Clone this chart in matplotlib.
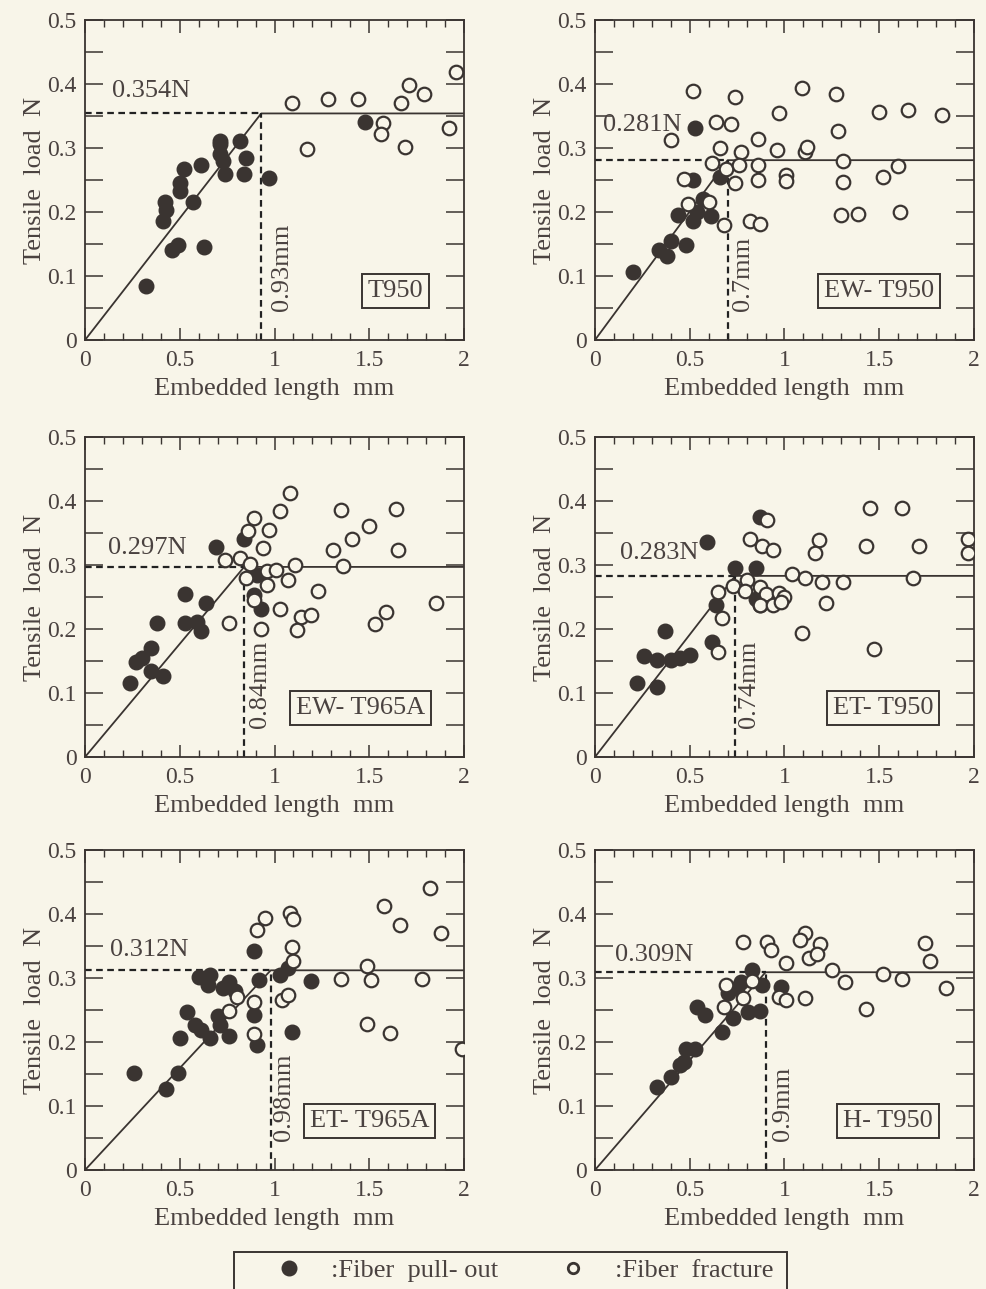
import matplotlib
matplotlib.use('Agg')
import matplotlib.pyplot as plt
from matplotlib.lines import Line2D
from matplotlib.patches import Rectangle
from matplotlib.ticker import MultipleLocator

matplotlib.rc('font', family='Liberation Serif', size=19)

BG = '#f8f5e9'
INK = '#3a3431'
TXT = '#4a4240'

# T950
t950_pull_x = [0.32, 0.46, 0.49, 0.63, 0.41, 0.43, 0.42, 0.57, 0.50, 0.50, 0.52, 0.61,
               0.71, 0.71, 0.71, 0.73, 0.74, 0.82, 0.85, 0.84, 0.97, 1.48]
t950_pull_y = [0.085, 0.140, 0.148, 0.145, 0.186, 0.203, 0.215, 0.216, 0.233, 0.245, 0.267, 0.274,
               0.290, 0.307, 0.311, 0.279, 0.260, 0.311, 0.284, 0.259, 0.253, 0.341]
t950_frac_x = [1.09, 1.28, 1.44, 1.17, 1.57, 1.56, 1.67, 1.71, 1.79, 1.69, 1.92, 1.96]
t950_frac_y = [0.371, 0.376, 0.376, 0.298, 0.339, 0.322, 0.371, 0.398, 0.384, 0.301, 0.332, 0.419]

# EW-T950
ewt950_pull_x = [0.20, 0.34, 0.40, 0.38, 0.48, 0.44, 0.52, 0.54, 0.61, 0.57, 0.52, 0.66, 0.53]
ewt950_pull_y = [0.106, 0.141, 0.154, 0.132, 0.148, 0.195, 0.186, 0.200, 0.194, 0.221, 0.250, 0.255, 0.331]
ewt950_frac_x = [0.52, 0.74, 1.09, 1.27, 0.97, 1.50, 1.65, 1.83, 0.40, 0.64, 0.72, 0.86, 1.28,
                 0.66, 0.77, 0.96, 1.11, 1.12, 0.62, 0.69, 0.76, 0.86, 1.31, 1.60, 0.47, 0.74,
                 0.86, 1.01, 1.01, 1.31, 1.52, 0.49, 0.60, 0.68, 0.82, 0.87, 1.30, 1.39, 1.61]
ewt950_frac_y = [0.389, 0.379, 0.394, 0.384, 0.355, 0.357, 0.360, 0.351, 0.313, 0.341, 0.337, 0.314, 0.327,
                 0.300, 0.294, 0.297, 0.294, 0.302, 0.277, 0.267, 0.274, 0.273, 0.280, 0.272, 0.251, 0.245,
                 0.250, 0.258, 0.249, 0.247, 0.255, 0.212, 0.216, 0.179, 0.186, 0.181, 0.195, 0.197, 0.200]

# EW-T965A
ewt965a_pull_x = [0.24, 0.27, 0.30, 0.35, 0.35, 0.41, 0.38, 0.53, 0.53, 0.59, 0.61, 0.64,
                  0.69, 0.84, 0.91, 0.89, 0.93]
ewt965a_pull_y = [0.116, 0.148, 0.155, 0.171, 0.134, 0.127, 0.210, 0.255, 0.209, 0.211, 0.197, 0.241,
                  0.328, 0.340, 0.284, 0.253, 0.232]
ewt965a_frac_x = [1.08, 1.03, 0.89, 0.86, 0.97, 0.94, 0.74, 0.82, 0.87, 0.85, 0.96, 1.01, 1.11,
                  1.07, 0.96, 1.23, 1.03, 0.89, 0.93, 0.76, 1.14, 1.19, 1.12, 1.35, 1.31, 1.41,
                  1.50, 1.36, 1.64, 1.65, 1.53, 1.59, 1.85]
ewt965a_frac_y = [0.413, 0.384, 0.373, 0.353, 0.355, 0.326, 0.308, 0.311, 0.302, 0.280, 0.290, 0.292, 0.300,
                  0.276, 0.269, 0.259, 0.232, 0.245, 0.200, 0.209, 0.219, 0.222, 0.199, 0.386, 0.324, 0.341,
                  0.361, 0.298, 0.388, 0.323, 0.208, 0.226, 0.240]

# ET-T950
ett950_pull_x = [0.22, 0.33, 0.26, 0.33, 0.40, 0.45, 0.50, 0.37, 0.59, 0.62, 0.64, 0.74,
                 0.85, 0.87, 0.85, 0.87]
ett950_pull_y = [0.115, 0.109, 0.158, 0.151, 0.151, 0.154, 0.160, 0.197, 0.336, 0.179, 0.238, 0.295,
                 0.295, 0.375, 0.247, 0.238]
ett950_frac_x = [0.91, 0.82, 0.88, 0.94, 0.65, 0.67, 0.65, 0.73, 0.80, 0.79, 0.87, 0.90, 0.87,
                 0.94, 0.97, 1.00, 0.98, 1.04, 1.11, 1.20, 1.31, 1.22, 1.18, 1.16, 1.09, 1.45,
                 1.62, 1.43, 1.71, 1.68, 1.47, 1.97, 1.97]
ett950_frac_y = [0.370, 0.341, 0.329, 0.324, 0.164, 0.217, 0.258, 0.267, 0.277, 0.260, 0.266, 0.254, 0.237,
                 0.237, 0.257, 0.250, 0.242, 0.286, 0.279, 0.273, 0.273, 0.241, 0.339, 0.318, 0.194, 0.389,
                 0.389, 0.329, 0.329, 0.279, 0.168, 0.341, 0.319]

# ET-T965A
ett965a_pull_x = [0.26, 0.43, 0.49, 0.50, 0.54, 0.58, 0.61, 0.66, 0.71, 0.70, 0.60, 0.66, 0.65,
                  0.73, 0.76, 0.79, 0.76, 0.89, 0.92, 0.89, 0.91, 1.03, 1.07, 1.09, 1.19]
ett965a_pull_y = [0.151, 0.127, 0.152, 0.206, 0.247, 0.227, 0.219, 0.206, 0.227, 0.240, 0.301, 0.305, 0.289,
                  0.284, 0.294, 0.279, 0.209, 0.342, 0.297, 0.242, 0.195, 0.305, 0.315, 0.215, 0.295]
ett965a_frac_x = [0.95, 0.91, 1.08, 1.10, 1.09, 1.10, 1.04, 1.07, 0.80, 0.76, 0.89, 0.89, 1.35,
                  1.49, 1.51, 1.78, 1.49, 1.61, 1.58, 1.66, 1.82, 1.88, 1.99]
ett965a_frac_y = [0.394, 0.375, 0.401, 0.392, 0.349, 0.327, 0.266, 0.273, 0.271, 0.248, 0.263, 0.212, 0.298,
                  0.318, 0.297, 0.298, 0.228, 0.214, 0.413, 0.383, 0.440, 0.370, 0.189]

# H-T950
ht950_pull_x = [0.33, 0.40, 0.45, 0.47, 0.48, 0.53, 0.67, 0.54, 0.58, 0.73, 0.81, 0.87,
                0.70, 0.75, 0.77, 0.83, 0.88, 0.98]
ht950_pull_y = [0.129, 0.145, 0.164, 0.169, 0.189, 0.189, 0.216, 0.254, 0.242, 0.237, 0.247, 0.248,
                0.276, 0.284, 0.294, 0.312, 0.289, 0.286]
ht950_frac_x = [0.78, 0.91, 0.93, 1.01, 1.11, 1.08, 1.19, 1.13, 1.17, 1.25, 1.32, 1.52, 1.62,
                1.74, 1.77, 1.85, 1.43, 1.11, 0.97, 1.01, 0.69, 0.83, 0.78, 0.68]
ht950_frac_y = [0.357, 0.357, 0.344, 0.323, 0.371, 0.359, 0.353, 0.331, 0.337, 0.312, 0.294, 0.306, 0.298,
                0.355, 0.326, 0.285, 0.252, 0.268, 0.271, 0.265, 0.289, 0.295, 0.268, 0.254]

names = ['T950', 'EW- T950', 'EW- T965A', 'ET- T950', 'ET- T965A', 'H- T950']
crit_len = [0.93, 0.7, 0.84, 0.74, 0.98, 0.9]
crit_load = [0.354, 0.281, 0.297, 0.283, 0.312, 0.309]

pulls = [(t950_pull_x, t950_pull_y), (ewt950_pull_x, ewt950_pull_y), (ewt965a_pull_x, ewt965a_pull_y),
         (ett950_pull_x, ett950_pull_y), (ett965a_pull_x, ett965a_pull_y), (ht950_pull_x, ht950_pull_y)]
fracs = [(t950_frac_x, t950_frac_y), (ewt950_frac_x, ewt950_frac_y), (ewt965a_frac_x, ewt965a_frac_y),
         (ett950_frac_x, ett950_frac_y), (ett965a_frac_x, ett965a_frac_y), (ht950_frac_x, ht950_frac_y)]

# label placement (data coords)
load_txt_x = [0.14, 0.045, 0.12, 0.13, 0.13, 0.105]
load_txt_y = [0.389, 0.336, 0.326, 0.318, 0.344, 0.336]
len_txt_dx = [0.11, 0.08, 0.085, 0.075, 0.07, 0.09]
name_x = [1.64, 1.5, 1.455, 1.52, 1.5, 1.547]

fig = plt.figure(figsize=(9.86, 12.89), dpi=100, facecolor=BG)
lefts = [0.0862, 0.6034]
bottoms = [0.7362, 0.4127, 0.0923]

for i in range(6):
    ax = fig.add_axes([lefts[i % 2], bottoms[i // 2], 0.3844, 0.2483])
    ax.set_facecolor(BG)
    lc, pc = crit_len[i], crit_load[i]

    ax.plot([0, lc, 2], [0, pc, pc], '-', color=INK, lw=1.3, zorder=2)
    ax.plot([0, lc], [pc, pc], '--', color='#222222', lw=1.6, dashes=(3, 2), zorder=2)
    ax.plot([lc, lc], [0, pc], '--', color='#222222', lw=1.6, dashes=(3, 2), zorder=2)

    ax.scatter(pulls[i][0], pulls[i][1], s=110, color=INK, edgecolors=INK, zorder=3, clip_on=False)
    ax.scatter(fracs[i][0], fracs[i][1], s=95, facecolors=BG, edgecolors=INK, linewidths=1.6,
               zorder=4, clip_on=True)

    ax.text(load_txt_x[i], load_txt_y[i], '%.3fN' % pc, ha='left', va='center', color=TXT, fontsize=19)
    ax.text(lc + len_txt_dx[i], 0.045, '%gmm' % lc, rotation=90, ha='center', va='bottom',
            color=TXT, fontsize=19)
    ax.text(name_x[i], 0.077, names[i], ha='center', va='center', color=TXT, fontsize=19,
            bbox=dict(boxstyle='square,pad=0.22', fc=BG, ec=INK, lw=1.4))

    ax.set_xlim(0, 2)
    ax.set_ylim(0, 0.5)
    ax.set_xticks([0, 0.5, 1, 1.5, 2])
    ax.set_xticklabels(['0', '0.5', '1', '1.5', '2'])
    ax.xaxis.set_minor_locator(MultipleLocator(0.1))
    ax.set_yticks([0, 0.1, 0.2, 0.3, 0.4, 0.5])
    ax.set_yticklabels(['0', '0.1', '0.2', '0.3', '0.4', '0.5'])
    ax.yaxis.set_minor_locator(MultipleLocator(0.05))
    ax.tick_params(which='both', direction='in', top=True, right=True, colors=INK,
                   labelcolor=TXT, labelsize=17)
    ax.tick_params(axis='x', which='major', length=9, width=1.1, pad=7)
    ax.tick_params(axis='x', which='minor', length=5, width=1.0)
    ax.tick_params(axis='y', which='both', length=13, width=1.1, pad=6)
    for sp in ax.spines.values():
        sp.set_color(INK)
        sp.set_linewidth(1.3)
    ax.set_xlabel('Embedded length  mm', color=TXT, fontsize=19, labelpad=5)
    ax.set_ylabel('Tensile  load  N', color=TXT, fontsize=19, labelpad=1)

# legend strip at the bottom
fig.patches.append(Rectangle((0.2373, -0.01), 0.561, 0.0387, transform=fig.transFigure,
                             fill=False, ec=INK, lw=1.4))
handles = [Line2D([], [], ls='none', marker='o', ms=10.5, color=INK),
           Line2D([], [], ls='none', marker='o', ms=7.5, mfc=BG, mec=INK, mew=2.0)]
leg = fig.legend(handles, [':Fiber  pull- out', ':Fiber  fracture'], loc='center left', ncol=2,
                 bbox_to_anchor=(0.28, 0.0145), frameon=False, fontsize=19,
                 handlelength=1.0, handletextpad=1.1, columnspacing=2.3,
                 borderpad=0, borderaxespad=0)
for t in leg.get_texts():
    t.set_color(TXT)

fig.savefig('out.png', dpi=100, facecolor=BG)
